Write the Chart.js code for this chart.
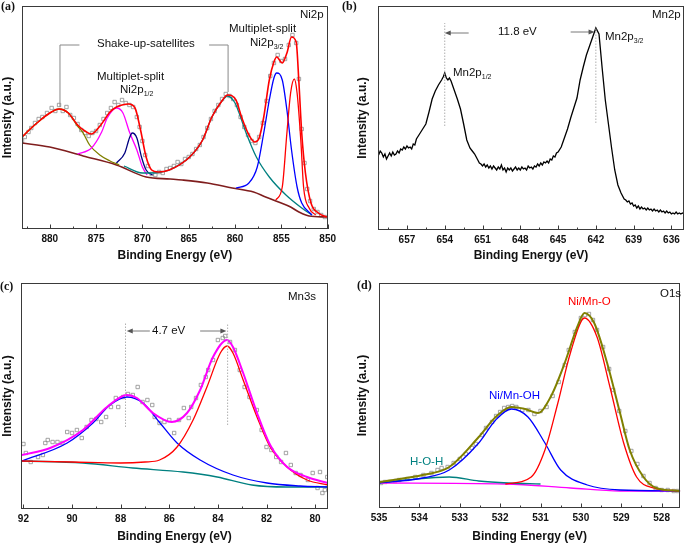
<!DOCTYPE html>
<html>
<head>
<meta charset="utf-8">
<script src="https://cdn.jsdelivr.net/npm/chart.js@4.4.1/dist/chart.umd.min.js"></script>
<style>
  body { margin: 0; background: #fff; width: 685px; height: 546px; position: relative; overflow: hidden; font-family: 'Liberation Sans', Arial, sans-serif; }
  canvas { position: absolute; }
  .t { position: absolute; font-size: 11.5px; line-height: 1; white-space: nowrap; color: #111; }
  .t sub { font-size: 7px; vertical-align: baseline; position: relative; top: 3px; }
  .tag { position: absolute; font: bold 12px 'Liberation Serif', 'Times New Roman', serif; line-height: 1; color: #111; }
</style>
</head>
<body>
<canvas id="niChart" width="340" height="270" style="left:0;top:0"></canvas>
<canvas id="mn2pChart" width="345" height="270" style="left:340px;top:0"></canvas>
<canvas id="mn3sChart" width="340" height="276" style="left:0;top:270px"></canvas>
<canvas id="o1sChart" width="345" height="276" style="left:340px;top:270px"></canvas>

<div class="tag" style="left:1px;top:0">(a)</div>
<div class="tag" style="left:342px;top:0">(b)</div>
<div class="tag" style="left:0;top:280px">(c)</div>
<div class="tag" style="left:357px;top:279px">(d)</div>

<div class="t" style="left:97px;top:38px">Shake-up-satellites</div>
<div class="t" style="left:97px;top:71px">Multiplet-split</div>
<div class="t" style="left:120px;top:84px">Ni2p<sub>1/2</sub></div>
<div class="t" style="left:229px;top:23px">Multiplet-split</div>
<div class="t" style="left:250px;top:37px">Ni2p<sub>3/2</sub></div>
<div class="t" style="left:300px;top:9px">Ni2p</div>

<div class="t" style="left:498px;top:26px">11.8 eV</div>
<div class="t" style="left:453px;top:67px">Mn2p<sub>1/2</sub></div>
<div class="t" style="left:605px;top:31px">Mn2p<sub>3/2</sub></div>
<div class="t" style="left:652px;top:9px">Mn2p</div>

<div class="t" style="left:152px;top:325px">4.7 eV</div>
<div class="t" style="left:288px;top:291px">Mn3s</div>

<div class="t" style="left:568px;top:296px;color:#ff0000">Ni/Mn-O</div>
<div class="t" style="left:489px;top:390px;color:#0000ff">Ni/Mn-OH</div>
<div class="t" style="left:410px;top:456px;color:#008080">H-O-H</div>
<div class="t" style="left:660px;top:288px">O1s</div>

<script>
// ---------- (a) Ni2p : [binding energy, intensity] ----------
const niTicks = [880, 875, 870, 865, 860, 855, 850];
const niMinor = [882.5, 877.5, 872.5, 867.5, 862.5, 857.5, 852.5];
const niPoints = [[883.0,88],[882.7,92],[882.3,97],[882.0,101],[881.6,106],[881.2,110],[880.8,112],[880.3,116],[879.8,121],[879.4,118],[879.0,124],[878.6,118],[878.2,122],[877.8,114],[877.4,111],[877.0,105],[876.6,99],[876.2,96],[875.8,93],[875.4,96],[875.0,98],[874.6,104],[874.2,110],[873.8,116],[873.4,121],[873.0,127],[872.6,124],[872.2,129],[871.8,126],[871.4,124],[871.0,122],[870.6,112],[870.3,102],[870.0,88],[869.7,74],[869.4,63],[869.0,55],[868.6,54],[868.2,57],[867.8,56],[867.4,60],[867.0,61],[866.6,63],[866.2,67],[865.8,65],[865.4,70],[865.0,72],[864.6,75],[864.2,80],[863.8,84],[863.4,92],[863.0,101],[862.6,110],[862.2,118],[861.8,124],[861.4,130],[861.0,135],[860.6,133],[860.2,130],[859.8,124],[859.4,112],[859.0,102],[858.6,94],[858.2,88],[857.8,86],[857.4,92],[857.0,106],[856.6,128],[856.2,153],[855.8,166],[855.4,174],[855.0,168],[854.6,170],[854.2,184],[853.8,194],[853.4,186],[853.1,150],[852.8,100],[852.5,66],[852.2,40],[851.9,28],[851.5,20],[851.1,17],[850.7,14],[850.3,12]];
const niEnvelope = [[883.0,92],[882.0,101],[881.0,109],[880.0,116],[879.0,120],[878.0,116],[877.0,104],[876.2,98],[875.5,95],[874.5,104],[873.5,117],[872.8,122],[872.2,124],[871.5,125],[870.8,121],[870.2,99],[869.6,72],[869.0,59],[868.3,57],[867.1,59],[864.9,72],[863.5,89],[862.5,112],[861.5,127],[860.8,134],[859.9,129],[859.3,112],[858.5,94],[857.9,87],[857.4,91],[856.9,112],[856.3,149],[855.8,167],[855.5,172],[854.9,166],[854.4,176],[853.9,192],[853.4,187],[853.1,146],[852.8,96],[852.4,56],[851.8,26],[851.0,16],[850.1,12]];
const niBackground = [[883.0,86],[880.0,82],[876.4,73],[872.8,64],[869.6,52],[867.0,50],[865.7,49],[863.0,46],[860.3,41],[858.0,37],[856.7,32],[855.3,27],[854.0,22],[853.1,17],[852.0,13],[850.1,12]];
const niSat879 = [[883.0,92],[882.0,101],[881.0,109],[880.0,116],[879.0,120],[878.0,116],[877.0,103],[876.4,96],[875.7,84],[874.6,74],[873.5,68],[872.5,64]];
const niP12main = [[877.0,75],[875.5,81],[874.4,97],[873.8,111],[872.8,121],[872.1,116],[871.4,97],[870.6,79],[870.0,62],[869.5,54]];
const niP12side = [[872.8,66],[871.9,76],[871.4,91],[871.1,96],[870.6,91],[870.1,72],[869.6,59],[868.9,54]];
const niSat861 = [[872.0,63],[870.0,56],[869.0,56],[868.0,57],[867.1,59],[864.9,72],[863.5,89],[862.5,112],[861.5,127],[860.8,133],[860.0,126],[859.6,117],[858.8,96],[857.7,72],[856.3,52],[854.5,34],[852.8,21],[851.7,14]];
const niP32main = [[859.9,41],[858.5,46],[857.6,62],[856.9,96],[856.3,129],[855.8,151],[855.5,156],[854.9,149],[854.4,119],[853.9,79],[853.3,42],[852.8,26],[851.7,14]];
const niP32side = [[855.6,29],[854.9,42],[854.4,96],[854.0,136],[853.6,150],[853.3,136],[852.9,89],[852.6,42],[852.0,21],[851.3,14]];

// ---------- (b) Mn2p ----------
const mn2pTicks = [657, 654, 651, 648, 645, 642, 639, 636];
const mn2pMinor = [658.5, 655.5, 652.5, 649.5, 646.5, 643.5, 640.5, 637.5];
const mn2pSpectrum = [[659.25,75],[659.125,79],[659.0,77],[658.875,73],[658.75,76],[658.625,71],[658.5,74],[658.375,77],[658.25,74],[658.125,78],[658.0,75],[657.875,76],[657.75,79],[657.625,77],[657.5,81],[657.375,80],[657.25,83],[657.125,81],[657.0,84],[656.875,82],[656.75,83],[656.625,81],[656.5,86],[656.375,85],[656.25,91],[656.0,96],[655.75,101],[655.5,106],[655.25,118],[655.0,131],[654.75,139],[654.5,145],[654.25,150],[654.125,153],[654.0,157],[653.875,152],[653.75,150],[653.625,152],[653.5,149],[653.25,140],[653.0,131],[652.75,121],[652.5,106],[652.25,90],[652.0,82],[651.875,80],[651.75,78],[651.625,76],[651.5,73],[651.375,70],[651.25,67],[651.125,66],[651.0,64],[650.875,66],[650.75,63],[650.625,65],[650.5,62],[650.375,64],[650.25,61],[650.125,64],[650.0,62],[649.875,60],[649.75,63],[649.625,61],[649.5,65],[649.375,60],[649.25,62],[649.125,58],[649.0,62],[648.875,60],[648.75,62],[648.625,59],[648.5,61],[648.375,63],[648.25,60],[648.125,62],[648.0,60],[647.875,63],[647.75,61],[647.625,62],[647.5,60],[647.375,64],[647.25,62],[647.125,63],[647.0,61],[646.875,64],[646.75,63],[646.625,66],[646.5,64],[646.375,67],[646.25,65],[646.125,68],[646.0,67],[645.875,69],[645.75,67],[645.625,71],[645.5,70],[645.375,74],[645.25,73],[645.125,77],[645.0,78],[644.75,83],[644.5,92],[644.25,101],[644.0,112],[643.75,122],[643.5,132],[643.25,150],[643.0,163],[642.75,175],[642.5,184],[642.25,193],[642.0,202],[641.75,196],[641.5,162],[641.25,130],[641.0,106],[640.75,82],[640.5,60],[640.25,45],[640.0,37],[639.75,31],[639.625,30],[639.5,28],[639.375,29],[639.25,26],[639.125,27],[639.0,24],[638.875,25],[638.75,22],[638.625,24],[638.5,21],[638.375,23],[638.25,21],[638.125,22],[638.0,20],[637.875,22],[637.75,20],[637.625,21],[637.5,19],[637.375,21],[637.25,19],[637.125,20],[637.0,18],[636.875,20],[636.75,18],[636.625,19],[636.5,17],[636.375,19],[636.25,17],[636.125,18],[636.0,16],[635.875,17],[635.75,16],[635.625,18],[635.5,16],[635.375,17],[635.25,16],[635.125,17],[635.0,16]];

// ---------- (c) Mn3s ----------
const mn3sTicks = [92, 90, 88, 86, 84, 82, 80];
const mn3sMinor = [91, 89, 87, 85, 83, 81];
const mn3sPoints = [[92.0,65],[91.9,56],[91.7,47],[91.4,52],[91.2,54],[91.1,66],[91.0,69],[90.8,67],[90.6,67],[90.4,66],[90.2,77],[90.0,76],[89.8,79],[89.6,71],[89.4,82],[89.2,89],[89.0,90],[88.8,87],[88.6,92],[88.4,102],[88.2,111],[88.1,102],[87.9,112],[87.7,115],[87.5,114],[87.3,122],[87.1,107],[86.9,109],[86.7,104],[86.6,92],[86.4,86],[86.2,87],[86.0,89],[85.8,76],[85.6,89],[85.4,101],[85.2,91],[85.1,102],[84.9,111],[84.7,124],[84.5,132],[84.4,139],[84.2,149],[84.0,169],[83.8,171],[83.7,173],[83.5,167],[83.3,159],[83.1,139],[82.9,122],[82.7,112],[82.4,99],[82.2,79],[82.0,62],[81.8,59],[81.6,52],[81.4,47],[81.2,56],[81.0,44],[80.8,36],[80.6,34],[80.3,29],[80.1,36],[79.9,21],[79.8,37],[79.7,16],[79.6,19],[79.5,32]];
const mn3sBackground = [[92.06,48],[89.55,46],[87.5,41],[85.43,37],[84.03,32],[82.6,24],[81.2,22],[79.47,22]];
const mn3sHigh = [[92.06,48],[90.2,66],[89.14,86],[88.44,104],[87.74,112],[87.08,106],[86.38,86],[85.68,66],[84.73,49],[83.38,34],[81.98,26],[80.62,23],[79.47,22]];
const mn3sLow = [[92.06,48],[90.0,47],[88.0,46],[87.0,47],[86.4,49],[85.68,62],[85.02,89],[84.45,122],[83.9,156],[83.62,163],[83.38,156],[82.96,129],[82.39,92],[81.85,62],[81.15,42],[80.33,29],[79.47,24]];
const mn3sEnvelope = [[92.06,54],[90.9,61],[89.55,79],[88.56,102],[87.74,114],[87.33,111],[86.67,96],[85.9,87],[85.27,96],[84.73,119],[84.2,152],[83.62,169],[83.38,162],[82.96,136],[82.39,96],[81.85,64],[81.15,42],[80.33,32],[79.47,26]];

// ---------- (d) O1s ----------
const o1sTicks = [535, 534, 533, 532, 531, 530, 529, 528];
const o1sMinor = [534.5, 533.5, 532.5, 531.5, 530.5, 529.5, 528.5];
const o1sPoints = [[534.95,25],[534.85,26],[534.6,27],[534.5,28],[534.3,29],[534.1,31],[533.9,33],[533.7,35],[533.55,38],[533.45,40],[533.3,41],[533.15,45],[533.0,49],[532.85,54],[532.7,60],[532.6,64],[532.45,73],[532.35,80],[532.2,86],[532.1,92],[532.0,96],[531.9,100],[531.8,101],[531.7,102],[531.6,101],[531.45,98],[531.3,98],[531.15,94],[531.0,97],[530.85,101],[530.7,112],[530.55,126],[530.4,143],[530.3,158],[530.15,176],[530.0,190],[529.9,193],[529.8,194],[529.7,188],[529.6,178],[529.45,161],[529.3,139],[529.2,118],[529.05,97],[528.9,77],[528.75,57],[528.6,44],[528.45,32],[528.3,25],[528.15,20],[528.0,18],[527.85,18],[527.7,17],[527.6,17]];
const o1sBaseline = [[535,25],[531.87,24],[530.26,20],[529.03,17],[527.54,17]];
const o1sWater = [[535,25],[534.32,28],[533.26,31],[532.53,27],[531.8,25],[531.0,24]];
const o1sHydroxide = [[535,25],[533.92,30],[533.26,38],[532.53,65],[532.11,88],[531.72,99],[531.31,91],[530.89,65],[530.5,38],[529.84,23],[529.03,18],[527.54,17]];
const o1sOxide = [[531.87,24],[531.23,31],[530.89,58],[530.57,105],[530.26,155],[529.91,190],[529.6,171],[529.28,121],[528.94,65],[528.62,31],[528.2,20],[527.54,17]];
const o1sEnvelope = [[535,26],[533.92,33],[533.26,41],[532.53,71],[532.11,91],[531.72,101],[531.38,99],[531.06,95],[530.75,111],[530.4,145],[530.09,181],[529.91,195],[529.67,185],[529.35,145],[529.03,95],[528.79,58],[528.45,31],[528.13,20],[527.54,17]];

const FONT = "'Liberation Sans', Arial, sans-serif";
const xy = pairs => pairs.map(([x, y]) => ({ x, y }));

const curve = (data, color, width = 1.3) => ({
  data: xy(data), showLine: true, borderColor: color, borderWidth: width,
  pointRadius: 0, tension: 0.4, cubicInterpolationMode: 'monotone', fill: false
});
const dots = data => ({
  data: xy(data), showLine: false, pointStyle: 'rect', pointRadius: 2.4,
  borderWidth: 0.8, borderColor: '#8c8c8c', backgroundColor: 'rgba(0,0,0,0)'
});

// frame, inward tick marks, guide lines and arrows
const marks = m => ({
  id: 'marks',
  afterDatasetsDraw(chart) {
    const { ctx, chartArea: a, scales: { x, y } } = chart;
    const px = v => x.getPixelForValue(v);
    const py = v => y.getPixelForValue(v);
    ctx.save();
    ctx.lineWidth = 1;
    ctx.strokeStyle = '#3a3a3a';
    ctx.strokeRect(Math.round(a.left) + 0.5, Math.round(a.top) + 0.5, Math.round(a.right - a.left) - 1, Math.round(a.bottom - a.top) - 1);
    ctx.beginPath();
    m.major.forEach(v => { const X = Math.round(px(v)) + 0.5; ctx.moveTo(X, a.bottom); ctx.lineTo(X, a.bottom - 4.5); });
    m.minor.forEach(v => { const X = Math.round(px(v)) + 0.5; ctx.moveTo(X, a.bottom); ctx.lineTo(X, a.bottom - 2.5); });
    ctx.stroke();

    ctx.strokeStyle = '#b0b0b0';
    ctx.setLineDash([1.5, 1.5]);
    (m.guides || []).forEach(([e, i1, i2]) => {
      ctx.beginPath(); ctx.moveTo(px(e), py(i1)); ctx.lineTo(px(e), py(i2)); ctx.stroke();
    });
    ctx.setLineDash([]);

    ctx.strokeStyle = '#888';
    (m.brackets || []).forEach(path => {
      ctx.beginPath();
      path.forEach(([e, i], k) => k ? ctx.lineTo(px(e), py(i)) : ctx.moveTo(px(e), py(i)));
      ctx.stroke();
    });

    ctx.strokeStyle = ctx.fillStyle = '#555';
    ctx.lineWidth = 0.8;
    (m.arrows || []).forEach(([e1, e2, i]) => {
      const x1 = px(e1), x2 = px(e2), yy = py(i), d = Math.sign(x2 - x1);
      ctx.beginPath(); ctx.moveTo(x1, yy); ctx.lineTo(x2 - d * 4, yy); ctx.stroke();
      ctx.beginPath(); ctx.moveTo(x2, yy); ctx.lineTo(x2 - d * 6, yy - 2.5); ctx.lineTo(x2 - d * 6, yy + 2.5); ctx.closePath(); ctx.fill();
    });
    ctx.restore();
  }
});

function makePanel(id, p) {
  return new Chart(document.getElementById(id), {
    type: 'scatter',
    data: { datasets: p.datasets },
    options: {
      responsive: false, animation: false, events: [], devicePixelRatio: 1,
      layout: { padding: p.padding },
      plugins: { legend: { display: false }, tooltip: { enabled: false } },
      scales: {
        x: {
          type: 'linear', min: p.xMin, max: p.xMax, reverse: true,
          grid: { display: false, drawTicks: false }, border: { display: false },
          afterBuildTicks: ax => { ax.ticks = p.ticks.map(v => ({ value: v })); },
          afterFit: ax => { ax.height = p.xHeight; },
          ticks: { color: '#111', font: { family: FONT, size: 10, weight: 'bold' }, padding: 4, maxRotation: 0, autoSkip: false },
          title: { display: true, text: 'Binding Energy (eV)', color: '#111', font: { family: FONT, size: 12, weight: 'bold' }, padding: { top: 0, bottom: p.xTitlePad } }
        },
        y: {
          type: 'linear', min: 0, max: p.yMax,
          grid: { display: false, drawTicks: false }, border: { display: false },
          ticks: { display: false },
          afterFit: ax => { ax.width = p.yWidth; },
          title: { display: true, text: 'Intensity (a.u.)', color: '#111', font: { family: FONT, size: 12, weight: 'bold' }, padding: { top: p.yTitlePad, bottom: 0 } }
        }
      }
    },
    plugins: [marks(p.marks)]
  });
}

makePanel('niChart', {
  xMin: 850, xMax: 883, yMax: 223, ticks: niTicks,
  padding: { left: 0, top: 6, right: 11, bottom: 0 }, yWidth: 22, xHeight: 41, xTitlePad: 7, yTitlePad: 0,
  datasets: [
    curve(niEnvelope, '#ff0000', 1.6),
    curve(niP32side, '#ff0000'),
    curve(niP32main, '#0000ff'),
    curve(niSat861, '#008080'),
    curve(niP12side, '#000080'),
    curve(niP12main, '#ff00ff'),
    curve(niSat879, '#808000'),
    curve(niBackground, '#7f1d1d', 1.6),
    dots(niPoints)
  ],
  marks: {
    major: niTicks, minor: niMinor,
    brackets: [[[878.9, 122], [878.9, 184], [876.8, 184]], [[862.8, 184], [860.75, 184], [860.75, 137]]]
  }
});

makePanel('mn2pChart', {
  xMin: 635, xMax: 659.3, yMax: 224, ticks: mn2pTicks,
  padding: { left: 0, top: 6, right: 1, bottom: 0 }, yWidth: 38, xHeight: 40, xTitlePad: 7, yTitlePad: 15,
  datasets: [ { ...curve(mn2pSpectrum, '#000000', 1.3), tension: 0, cubicInterpolationMode: 'default' } ],
  marks: {
    major: mn2pTicks, minor: mn2pMinor,
    guides: [[654.0, 104, 207], [642.0, 107, 203]],
    arrows: [[652.1, 654.0, 197], [644.0, 642.1, 198]]
  }
});

makePanel('mn3sChart', {
  xMin: 79.47, xMax: 92.1, yMax: 226, ticks: mn3sTicks,
  padding: { left: 0, top: 13, right: 12, bottom: 0 }, yWidth: 21, xHeight: 37, xTitlePad: 2, yTitlePad: 0,
  datasets: [
    curve(mn3sEnvelope, '#ff00ff', 2),
    curve(mn3sLow, '#ff0000'),
    curve(mn3sHigh, '#0000ff'),
    curve(mn3sBackground, '#008080'),
    dots(mn3sPoints)
  ],
  marks: {
    major: mn3sTicks, minor: mn3sMinor,
    guides: [[87.8, 82, 186], [83.6, 84, 186]],
    arrows: [[86.8, 87.75, 178], [84.73, 83.65, 178]]
  }
});

makePanel('o1sChart', {
  xMin: 527.54, xMax: 535, yMax: 225, ticks: o1sTicks,
  padding: { left: 0, top: 13, right: 1, bottom: 0 }, yWidth: 39, xHeight: 38, xTitlePad: 2, yTitlePad: 15,
  datasets: [
    curve(o1sEnvelope, '#808000', 2),
    curve(o1sOxide, '#ff0000'),
    curve(o1sHydroxide, '#0000ff'),
    curve(o1sWater, '#008080'),
    curve(o1sBaseline, '#ff00ff'),
    dots(o1sPoints)
  ],
  marks: { major: o1sTicks, minor: o1sMinor }
});
</script>
</body>
</html>
